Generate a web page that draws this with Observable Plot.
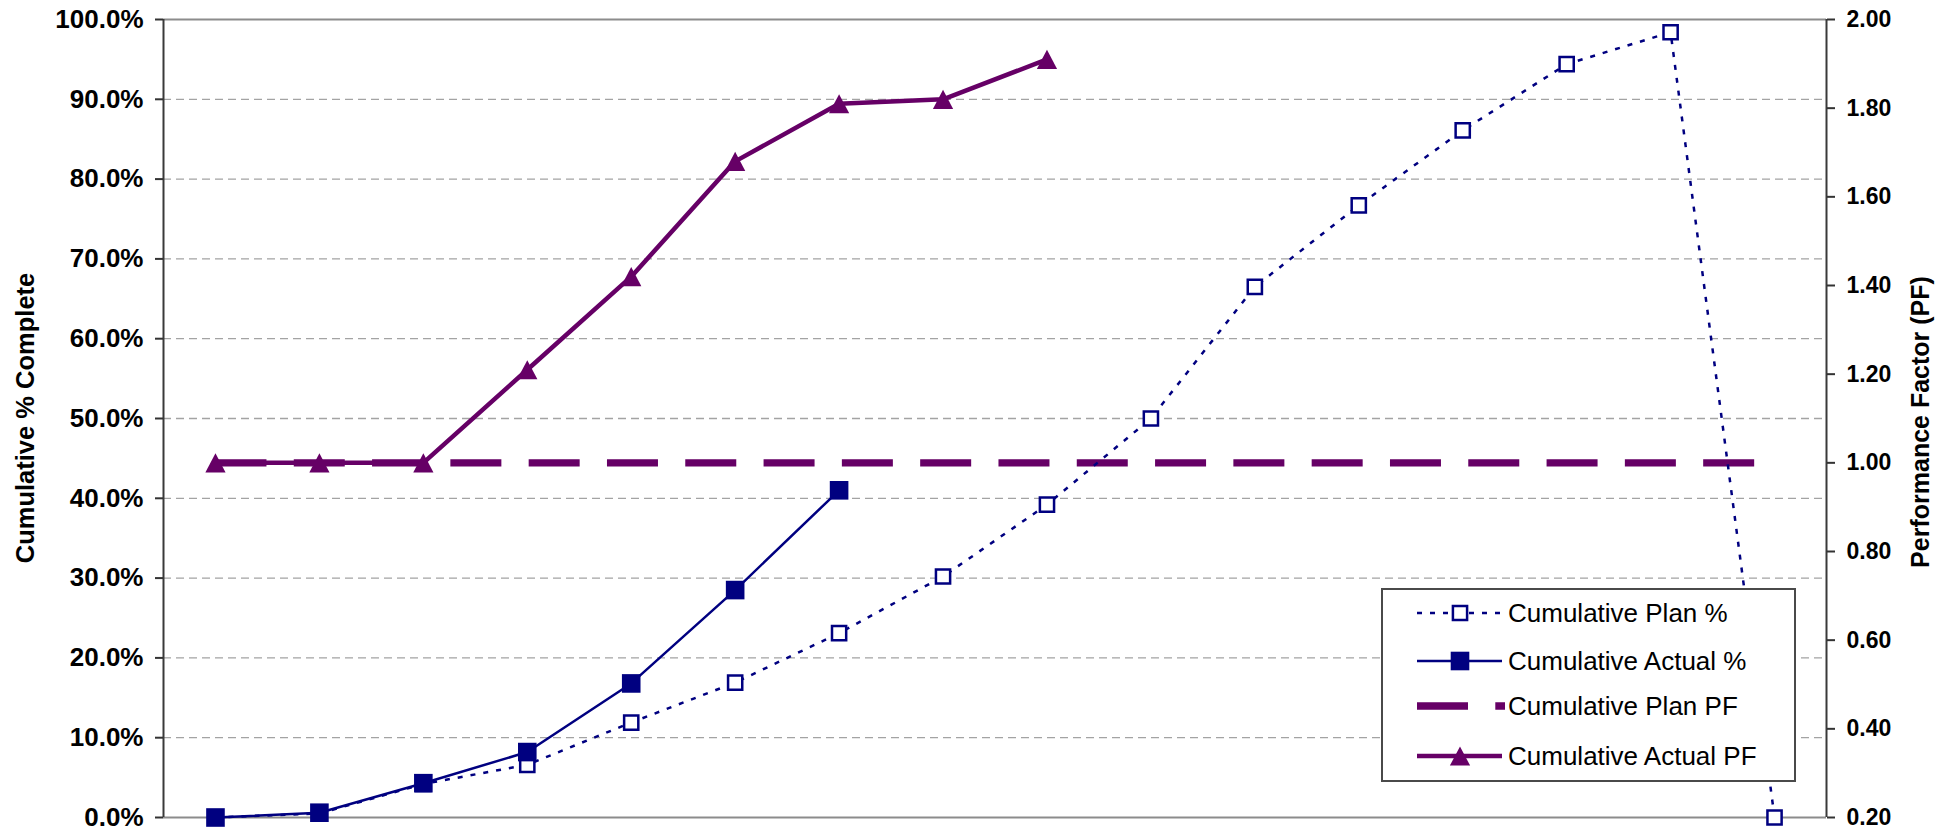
<!DOCTYPE html>
<html>
<head>
<meta charset="utf-8">
<script src="https://cdn.jsdelivr.net/npm/d3@7"></script>
<script src="https://cdn.jsdelivr.net/npm/@observablehq/plot@0.6"></script>
<style>
  html, body { margin: 0; padding: 0; background: #fff; }
  #chart { position: relative; width: 1953px; height: 831px; overflow: hidden; }
</style>
</head>
<body>
<div id="chart"></div>
<script>
// ---------------- data ----------------
const periods    = [1, 2, 3, 4, 5, 6, 7, 8, 9, 10, 11, 12, 13, 14, 15, 16];
const planPct    = [0, 0.5, 4.2, 6.6, 11.9, 16.9, 23.1, 30.2, 39.2, 50.0, 66.5, 76.7, 86.1, 94.4, 98.4, 0];
const actualPct  = [0, 0.6, 4.3, 8.2, 16.8, 28.5, 41.0];
const planPF     = [1.00, 1.00, 1.00, 1.00, 1.00, 1.00, 1.00, 1.00, 1.00, 1.00, 1.00, 1.00, 1.00, 1.00, 1.00, 1.00];
const actualPF   = [1.00, 1.00, 1.00, 1.21, 1.42, 1.68, 1.81, 1.82, 1.91];
const pctTicks   = [0, 10, 20, 30, 40, 50, 60, 70, 80, 90, 100];
const pfTicks    = [0.2, 0.4, 0.6, 0.8, 1.0, 1.2, 1.4, 1.6, 1.8, 2.0];
const seriesNames = ["Cumulative Plan %", "Cumulative Actual %", "Cumulative Plan PF", "Cumulative Actual PF"];
const leftTitle  = "Cumulative % Complete";
const rightTitle = "Performance Factor (PF)";

// ---------------- helpers ----------------
const NAVY = "#000080", PURPLE = "#660066";
const FONT = "'Liberation Sans', Arial, Helvetica, sans-serif";
const pfMin = pfTicks[0], pfMax = pfTicks[pfTicks.length - 1];
const pctMin = pctTicks[0], pctMax = pctTicks[pctTicks.length - 1];
const toPct = v => (v - pfMin) / (pfMax - pfMin) * (pctMax - pctMin) + pctMin;
const fromPct = p => (p - pctMin) / (pctMax - pctMin) * (pfMax - pfMin) + pfMin;
const xDomain = [periods[0] - 0.5, periods[periods.length - 1] + 0.5];

const planPctData   = periods.map((p, i) => ({period: p, value: planPct[i]}));
const actualPctData = actualPct.map((v, i) => ({period: periods[i], value: v}));
const planPFData    = planPF.map((v, i) => ({period: periods[i], value: toPct(v)}));
const actualPFData  = actualPF.map((v, i) => ({period: periods[i], value: toPct(v)}));

// triangle marker with centred bounding box (like Excel)
const triangle = {
  draw(ctx, size) {
    const r = Math.sqrt(size / Math.PI);
    const w = r * 1.35, h = r * 1.28;
    ctx.moveTo(0, -h); ctx.lineTo(w, h); ctx.lineTo(-w, h); ctx.closePath();
  }
};

const styles = {
  planPct:   {stroke: NAVY, strokeWidth: 2.5, dash: "5,8"},
  actualPct: {stroke: NAVY, strokeWidth: 2.5, dash: null},
  planPF:    {stroke: PURPLE, strokeWidth: 7.3, dash: "51,27.3"},
  actualPF:  {stroke: PURPLE, strokeWidth: 4.5, dash: null}
};

const W = 1953, H = 831;
const chart = Plot.plot({
  width: W,
  height: H,
  marginLeft: 163,
  marginRight: 127,
  marginTop: 19,
  marginBottom: 14,
  style: {fontFamily: FONT, color: "#000", background: "#fff", overflow: "visible"},
  x: {type: "linear", domain: xDomain, axis: null},
  y: {domain: [pctMin, pctMax]},
  marks: [
    Plot.gridY(pctTicks.filter(d => d > pctMin && d < pctMax),
      {stroke: "#a3a3a3", strokeOpacity: 1, strokeWidth: 1.3, strokeDasharray: "8,5"}),
    Plot.ruleY([pctMin, pctMax], {stroke: "#8c8c8c", strokeWidth: 2.2}),
    Plot.ruleX(xDomain, {stroke: "#3a3a3a", strokeWidth: 2}),
    Plot.axisY(pctTicks, {
      anchor: "left", tickSize: 8, tickPadding: 12, label: null,
      tickFormat: d => d.toFixed(1) + "%",
      fontSize: 26, fontWeight: "bold", stroke: "#333", strokeWidth: 2
    }),
    Plot.axisY(pfTicks.map(toPct), {
      anchor: "right", tickSize: 8, tickPadding: 12, label: null,
      tickFormat: d => fromPct(d).toFixed(2),
      fontSize: 23, fontWeight: "bold", stroke: "#333", strokeWidth: 2
    }),
    // secondary-axis series (PF)
    Plot.line(planPFData, {x: "period", y: "value", stroke: styles.planPF.stroke,
      strokeWidth: styles.planPF.strokeWidth, strokeDasharray: styles.planPF.dash, strokeLinecap: "butt"}),
    Plot.line(actualPFData, {x: "period", y: "value", stroke: styles.actualPF.stroke,
      strokeWidth: styles.actualPF.strokeWidth, strokeLinecap: "butt"}),
    Plot.dot(actualPFData, {x: "period", y: "value", symbol: triangle, r: 7.5, fill: PURPLE, stroke: "none"}),
    // primary-axis series (%)
    Plot.line(planPctData, {x: "period", y: "value", stroke: styles.planPct.stroke,
      strokeWidth: styles.planPct.strokeWidth, strokeDasharray: styles.planPct.dash, strokeLinecap: "butt"}),
    Plot.line(actualPctData, {x: "period", y: "value", stroke: styles.actualPct.stroke,
      strokeWidth: styles.actualPct.strokeWidth}),
    Plot.dot(planPctData, {x: "period", y: "value", symbol: "square", r: 8, fill: "#fff", stroke: NAVY, strokeWidth: 2.5}),
    Plot.dot(actualPctData, {x: "period", y: "value", symbol: "square", r: 10.5, fill: NAVY, stroke: "none"})
  ]
});
document.getElementById("chart").appendChild(chart);

// ---------------- axis titles & legend ----------------
const svg = d3.select(chart);
const midY = (19 + (H - 14)) / 2;
svg.append("text")
  .attr("transform", `translate(25,${midY}) rotate(-90)`)
  .attr("text-anchor", "middle").attr("dy", "0.35em")
  .attr("font-family", FONT).attr("font-size", 25.5).attr("font-weight", "bold")
  .attr("fill", "#000").text(leftTitle);
svg.append("text")
  .attr("transform", `translate(1920,${midY + 4}) rotate(-90)`)
  .attr("text-anchor", "middle").attr("dy", "0.35em")
  .attr("font-family", FONT).attr("font-size", 25).attr("font-weight", "bold")
  .attr("fill", "#000").text(rightTitle);

const lg = svg.append("g").attr("class", "legend").attr("text-anchor", "start");
const LX = 1382, LY = 589, LW = 413, LH = 192;
lg.append("rect").attr("x", LX).attr("y", LY).attr("width", LW).attr("height", LH)
  .attr("fill", "#fff").attr("stroke", "#4a4a4a").attr("stroke-width", 2);
const rowsY = [613, 661, 706, 756];
const keys = ["planPct", "actualPct", "planPF", "actualPF"];
const sym = (type, r) => d3.symbol(type, r * r * Math.PI)();
keys.forEach((k, i) => {
  const y = rowsY[i], st = styles[k];
  const x1 = 1417, x2 = k === "planPF" ? 1505 : 1502, xm = 1460;
  const ln = lg.append("line").attr("x1", x1).attr("x2", x2).attr("y1", y).attr("y2", y)
    .attr("stroke", st.stroke).attr("stroke-width", st.strokeWidth);
  if (st.dash) ln.attr("stroke-dasharray", st.dash);
  if (k === "planPct") {
    lg.append("path").attr("d", sym(d3.symbolSquare, 8)).attr("transform", `translate(${xm},${y})`)
      .attr("fill", "#fff").attr("stroke", NAVY).attr("stroke-width", 2.5);
  } else if (k === "actualPct") {
    lg.append("path").attr("d", sym(d3.symbolSquare, 10.5)).attr("transform", `translate(${xm},${y})`)
      .attr("fill", NAVY);
  } else if (k === "actualPF") {
    lg.append("path").attr("d", sym(triangle, 7.5)).attr("transform", `translate(${xm},${y})`)
      .attr("fill", PURPLE);
  }
  lg.append("text").attr("x", 1508).attr("y", y).attr("dy", "0.35em")
    .attr("text-anchor", "start")
    .attr("font-family", FONT).attr("font-size", 26).attr("fill", "#000")
    .text(seriesNames[i]);
});
</script>
</body>
</html>
